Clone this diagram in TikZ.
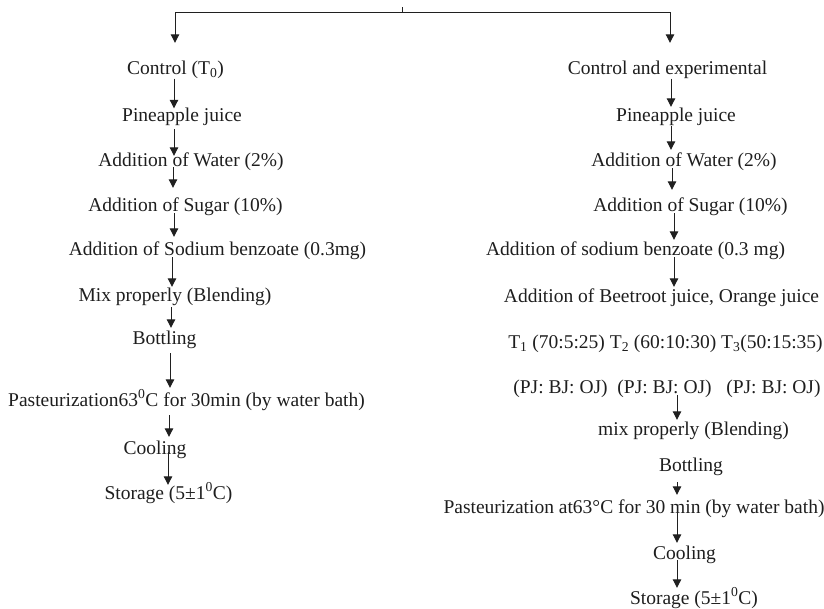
\documentclass[tikz,border=0pt]{standalone}
\usepackage{fontspec}
\setmainfont{Liberation Serif}
\usetikzlibrary{arrows.meta}
\definecolor{ink}{HTML}{1E1E1E}
\definecolor{wire}{HTML}{202020}
\tikzset{
  txt/.style={inner sep=0pt, anchor=center, text height=13pt, text depth=4pt,
              text=ink, font=\fontsize{19.5}{23}\selectfont},
  wireline/.style={draw=wire, line width=1pt},
  arr/.style={wireline, -{Triangle[length=8.5pt,width=8.5pt]}},
}
\begin{document}
\begin{tikzpicture}[x=1pt,y=-1pt]
\useasboundingbox (0,0) rectangle (824,608);

% ---------- left column ----------
\node[txt] (L0) at (175.5,70)  {Control (T\textsubscript{0})};
\node[txt] (L1) at (182,117)   {Pineapple juice};
\node[txt] (L2) at (191,162)   {Addition of Water (2\%)};
\node[txt] (L3) at (185.5,207) {Addition of Sugar (10\%)};
\node[txt] (L4) at (217.5,251) {Addition of Sodium benzoate (0.3mg)};
\node[txt] (L5) at (175,297)   {Mix properly (Blending)};
\node[txt] (L6) at (164.5,340) {Bottling};
\node[txt] (L7) at (186.5,402) {Pasteurization63\textsuperscript{0}C for 30min (by water bath)};
\node[txt] (L8) at (155,450)   {Cooling};
\node[txt] (L9) at (168.5,495) {Storage (5±1\textsuperscript{0}C)};

% ---------- right column ----------
\node[txt] (R0)  at (667.5,70)  {Control and experimental};
\node[txt] (R1)  at (676,117)   {Pineapple juice};
\node[txt] (R2)  at (684,162)   {Addition of Water (2\%)};
\node[txt] (R3)  at (690.5,207) {Addition of Sugar (10\%)};
\node[txt] (R4)  at (635.5,251) {Addition of sodium benzoate (0.3 mg)};
\node[txt] (R5)  at (661.5,298) {Addition of Beetroot juice, Orange juice};
\node[txt] (R6)  at (665.5,344) {T\textsubscript{1} (70:5:25) T\textsubscript{2} (60:10:30) T\textsubscript{3}(50:15:35)};
\node[txt] (R7)  at (667,389)   {(PJ: BJ: OJ)\ \ (PJ: BJ: OJ)\ \ \ (PJ: BJ: OJ)};
\node[txt] (R8)  at (693.5,431) {mix properly (Blending)};
\node[txt] (R9)  at (691,467)   {Bottling};
\node[txt] (R10) at (634,509)   {Pasteurization at63°C for 30 min (by water bath)};
\node[txt] (R11) at (684.5,555) {Cooling};
\node[txt] (R12) at (694,600)   {Storage (5±1\textsuperscript{0}C)};

% ---------- top split ----------
\coordinate (top) at (402,7);
\coordinate (bar) at (402,12.3);
\draw[wireline] (top) -- (bar);
\draw[arr] (bar) -| ([xshift=-0.5pt,yshift=18.5pt]L0.north);
\draw[arr] (bar) -| ([xshift=2.5pt,yshift=18.5pt]R0.north);

% ---------- left arrows ----------
\draw[arr] ([xshift=-1.5pt]L0.south) -- ([xshift=-8pt]L1.north);
\draw[arr] ([xshift=-8pt,yshift=-3.5pt]L1.south) -- ([xshift=-17pt,yshift=-2.5pt]L2.north);
\draw[arr] ([xshift=-18pt,yshift=3.5pt]L2.south) -- ([xshift=-12.5pt,yshift=10.5pt]L3.north);
\draw[arr] ([xshift=-11.5pt,yshift=2.5pt]L3.south) -- ([xshift=-43.5pt,yshift=5.5pt]L4.north);
\draw[arr] ([xshift=-45.5pt,yshift=2.5pt]L4.south) -- ([xshift=-3pt,yshift=1.5pt]L5.north);
\draw[arr] ([xshift=-4pt,yshift=-1.5pt]L5.south) -- ([xshift=6.5pt,yshift=3.5pt]L6.north);
\draw[arr] ([xshift=5.5pt,yshift=-4.5pt]L6.south) -- ([xshift=-16.5pt,yshift=5.5pt]L7.north);
\draw[arr] ([xshift=-17.5pt,yshift=-4.5pt]L7.south) -- ([xshift=14pt,yshift=4.5pt]L8.north);
\draw[arr] ([xshift=13pt,yshift=6.5pt]L8.south) -- ([xshift=-0.5pt,yshift=1.5pt]L9.north);

% ---------- right arrows ----------
\draw[arr] ([xshift=3.5pt]R0.south) -- ([xshift=-5pt,yshift=1.5pt]R1.north);
\draw[arr] ([xshift=-5pt]R1.south) -- ([xshift=-13pt,yshift=3.5pt]R2.north);
\draw[arr] ([xshift=-12pt,yshift=2.5pt]R2.south) -- ([xshift=-18.5pt,yshift=8.5pt]R3.north);
\draw[arr] ([xshift=-16.5pt,yshift=2.5pt]R3.south) -- ([xshift=38.5pt,yshift=2.5pt]R4.north);
\draw[arr] ([xshift=38.5pt,yshift=2.5pt]R4.south) -- ([xshift=12.5pt,yshift=2.5pt]R5.north);
\draw[arr] ([xshift=10pt,yshift=2.5pt]R7.south) -- ([xshift=-16.5pt,yshift=2.5pt]R8.north);
\draw[arr] ([xshift=-14pt,yshift=-6.5pt]R9.south) -- ([xshift=43pt,yshift=5.5pt]R10.north);
\draw[arr] ([xshift=43pt,yshift=7.5pt]R10.south) -- ([xshift=-7.5pt,yshift=3.5pt]R11.north);
\draw[arr] ([xshift=-7.5pt,yshift=3.5pt]R11.south) -- ([xshift=-17pt,yshift=3.5pt]R12.north);
\end{tikzpicture}
\end{document}
